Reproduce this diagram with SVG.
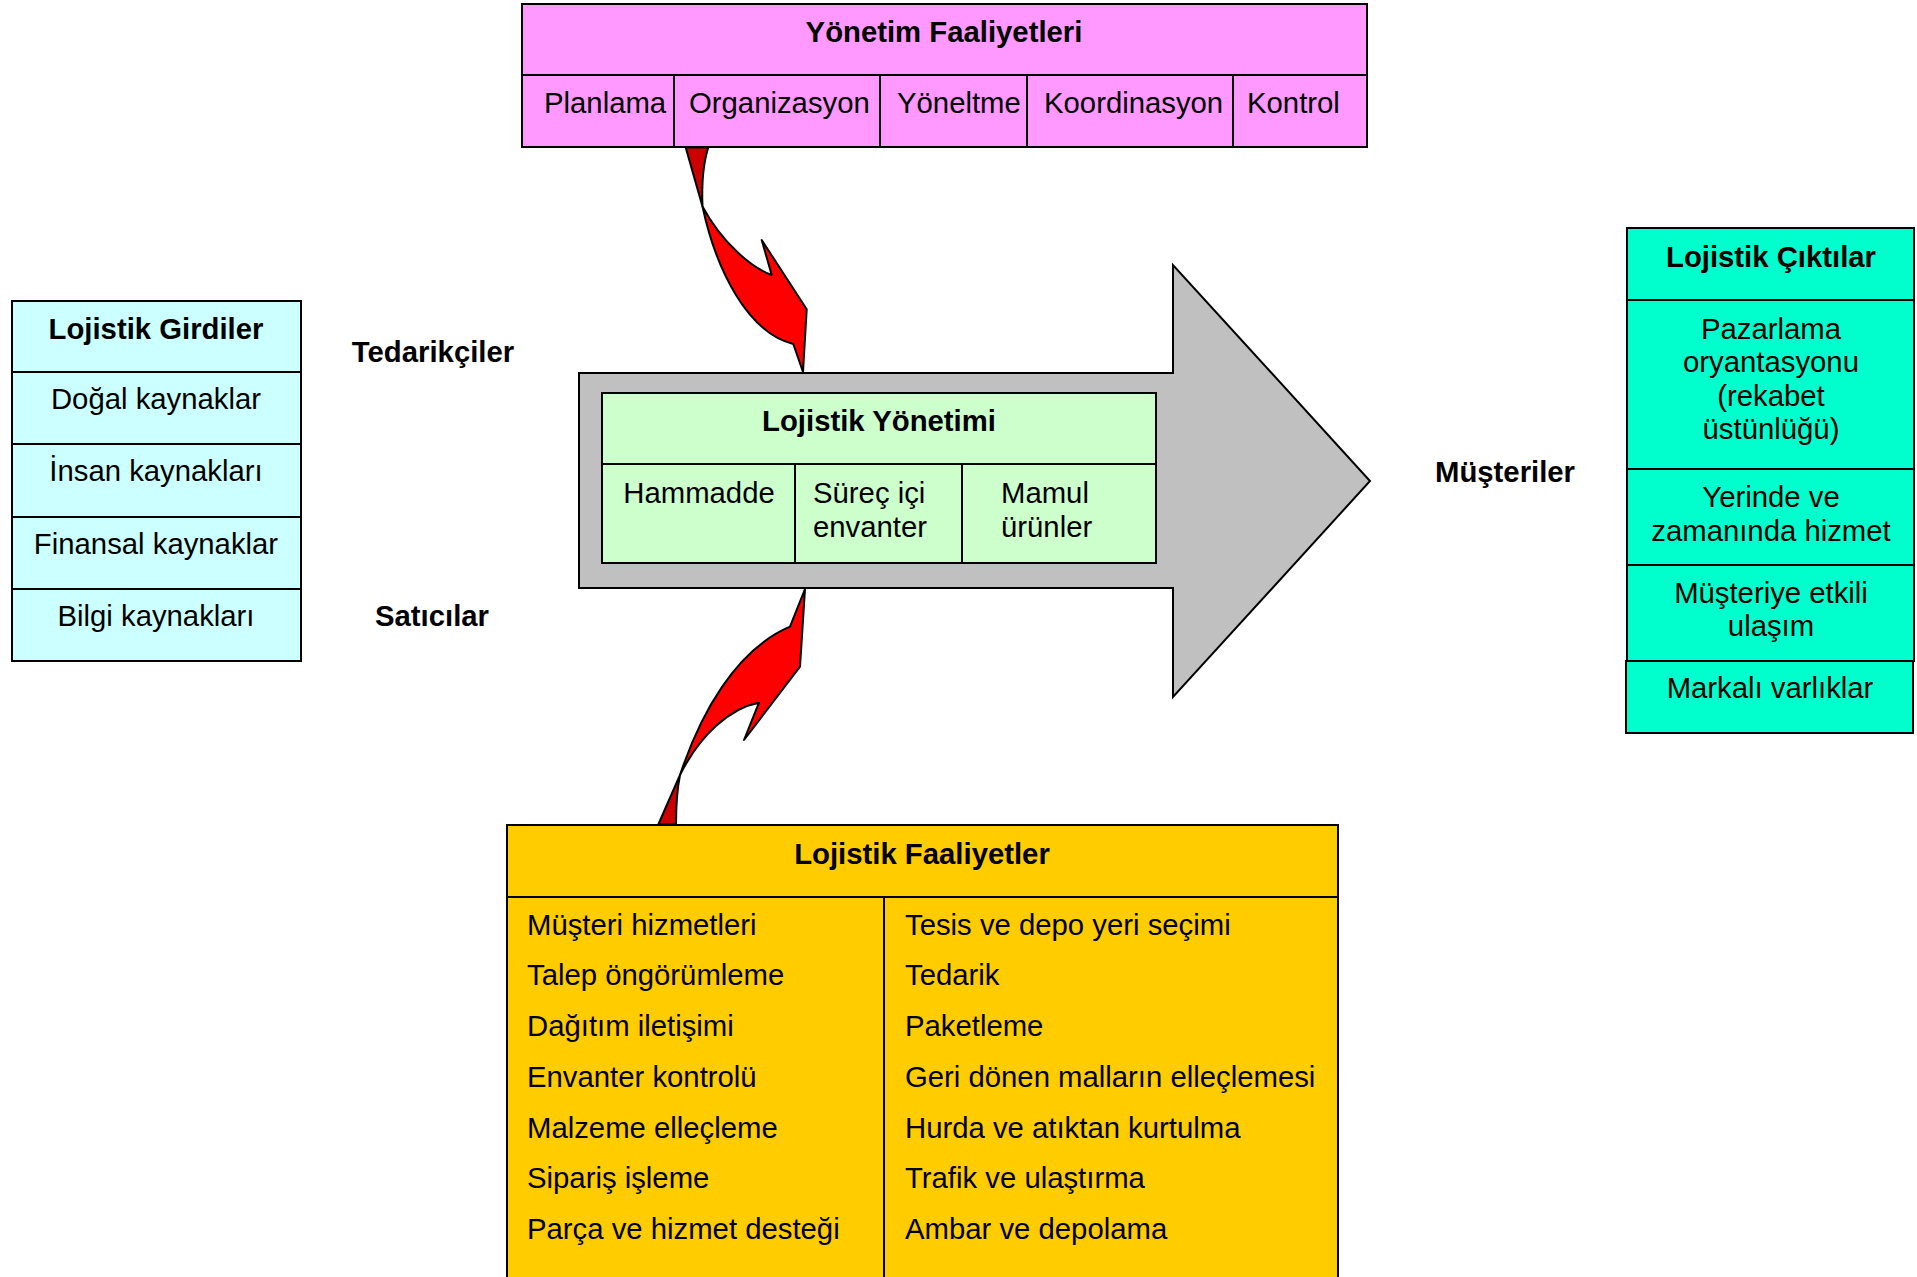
<svg xmlns="http://www.w3.org/2000/svg" width="1917" height="1277" viewBox="0 0 1917 1277">
  <style>
    text { font-family: "Liberation Sans", Arial, sans-serif; font-size: 29.3px; fill: #000; }
    .b { font-weight: bold; }
    .c { text-anchor: middle; }
    .box { stroke: #000; stroke-width: 2; }
    .line { stroke: #000; stroke-width: 2; fill: none; }
    .redf { fill: #FF0000; stroke: #000; stroke-width: 2; stroke-linejoin: round; }
    .redb { fill: #CC0000; stroke: #000; stroke-width: 2; stroke-linejoin: round; }
  </style>
  <rect width="1917" height="1277" fill="#FFFFFF"/>

  <!-- Management activities -->
  <g id="yonetim-faaliyetleri">
    <rect class="box" x="522" y="4" width="845" height="143" fill="#FF99FF"/>
    <line class="line" x1="522" y1="75" x2="1367" y2="75"/>
    <line class="line" x1="674" y1="75" x2="674" y2="147"/>
    <line class="line" x1="880" y1="75" x2="880" y2="147"/>
    <line class="line" x1="1027" y1="75" x2="1027" y2="147"/>
    <line class="line" x1="1233" y1="75" x2="1233" y2="147"/>
    <text class="b c" x="944" y="42">Yönetim Faaliyetleri</text>
    <text x="544" y="113">Planlama</text>
    <text x="689" y="113">Organizasyon</text>
    <text x="897" y="113">Yöneltme</text>
    <text x="1044" y="113">Koordinasyon</text>
    <text x="1247" y="113">Kontrol</text>
  </g>

  <!-- Logistics inputs -->
  <g id="lojistik-girdiler">
    <rect class="box" x="12" y="301" width="289" height="360" fill="#CCFFFF"/>
    <line class="line" x1="12" y1="372" x2="301" y2="372"/>
    <line class="line" x1="12" y1="444" x2="301" y2="444"/>
    <line class="line" x1="12" y1="517" x2="301" y2="517"/>
    <line class="line" x1="12" y1="589" x2="301" y2="589"/>
    <text class="b c" x="156" y="339">Lojistik Girdiler</text>
    <text class="c" x="156" y="409">Doğal kaynaklar</text>
    <text class="c" x="156" y="481">İnsan kaynakları</text>
    <text class="c" x="156" y="554">Finansal kaynaklar</text>
    <text class="c" x="156" y="626">Bilgi kaynakları</text>
  </g>

  <g id="tedarikciler">
    <text class="b c" x="433" y="362">Tedarikçiler</text>
  </g>
  <g id="saticilar">
    <text class="b c" x="432" y="626">Satıcılar</text>
  </g>

  <!-- Logistics management inside the flow arrow -->
  <g id="lojistik-yonetimi">
    <polygon class="box" fill="#C0C0C0" points="579,373 1173,373 1173,265 1370,481 1173,697 1173,588 579,588"/>
    <rect class="box" x="602" y="393" width="554" height="170" fill="#CCFFCC"/>
    <line class="line" x1="602" y1="464" x2="1156" y2="464"/>
    <line class="line" x1="795" y1="464" x2="795" y2="563"/>
    <line class="line" x1="962" y1="464" x2="962" y2="563"/>
    <text class="b c" x="879" y="431">Lojistik Yönetimi</text>
    <text class="c" x="699" y="503">Hammadde</text>
    <text x="813" y="503">Süreç içi</text>
    <text x="813" y="537">envanter</text>
    <text x="1001" y="503">Mamul</text>
    <text x="1001" y="537">ürünler</text>
  </g>

  <g id="musteriler">
    <text class="b c" x="1505" y="482">Müşteriler</text>
  </g>

  <!-- Logistics outputs -->
  <g id="lojistik-ciktilar">
    <rect class="box" x="1627" y="228" width="287" height="433" fill="#00FFCC"/>
    <line class="line" x1="1627" y1="300" x2="1914" y2="300"/>
    <line class="line" x1="1627" y1="469" x2="1914" y2="469"/>
    <line class="line" x1="1627" y1="565" x2="1914" y2="565"/>
    <rect class="box" x="1626" y="661" width="287" height="72" fill="#00FFCC"/>
    <text class="b c" x="1771" y="267">Lojistik Çıktılar</text>
    <text class="c" x="1771" y="339">Pazarlama</text>
    <text class="c" x="1771" y="372">oryantasyonu</text>
    <text class="c" x="1771" y="406">(rekabet</text>
    <text class="c" x="1771" y="439">üstünlüğü)</text>
    <text class="c" x="1771" y="507">Yerinde ve</text>
    <text class="c" x="1771" y="541">zamanında hizmet</text>
    <text class="c" x="1771" y="603">Müşteriye etkili</text>
    <text class="c" x="1771" y="636">ulaşım</text>
    <text class="c" x="1770" y="698">Markalı varlıklar</text>
  </g>

  <!-- Logistics activities -->
  <g id="lojistik-faaliyetler">
    <rect class="box" x="507" y="825" width="831" height="470" fill="#FFCC00"/>
    <line class="line" x1="507" y1="897" x2="1338" y2="897"/>
    <line class="line" x1="884" y1="897" x2="884" y2="1295"/>
    <text class="b c" x="922" y="864">Lojistik Faaliyetler</text>
    <text x="527" y="935">Müşteri hizmetleri</text>
    <text x="527" y="985">Talep öngörümleme</text>
    <text x="527" y="1036">Dağıtım iletişimi</text>
    <text x="527" y="1087">Envanter kontrolü</text>
    <text x="527" y="1138">Malzeme elleçleme</text>
    <text x="527" y="1188">Sipariş işleme</text>
    <text x="527" y="1239">Parça ve hizmet desteği</text>
    <text x="905" y="935">Tesis ve depo yeri seçimi</text>
    <text x="905" y="985">Tedarik</text>
    <text x="905" y="1036">Paketleme</text>
    <text x="905" y="1087">Geri dönen malların elleçlemesi</text>
    <text x="905" y="1138">Hurda ve atıktan kurtulma</text>
    <text x="905" y="1188">Trafik ve ulaştırma</text>
    <text x="905" y="1239">Ambar ve depolama</text>
  </g>

  <!-- Curved connectors into the flow arrow -->
  <g id="connectors">
    <g id="yonetim-to-akis">
      <path class="redb" d="M685.7,147.5 L702.5,206.5 Q701,170 708.3,147.5 Z"/>
      <path class="redf" d="M702.5,206.5 C716,270 748,333 793.3,344 L803,372 L806.7,309.3 L761.7,240 L771.7,275 C752,268 722,243 702.5,206.5 Z"/>
    </g>
    <g id="faaliyetler-to-akis">
      <path class="redb" d="M658.3,824.5 L680,775 Q676,795 676,824.5 Z"/>
      <path class="redf" d="M680,775 C700,715 735,650 790,626.7 L805,589 L800,666.7 L744,740 L759,702.7 C730,708 700,735 680,775 Z"/>
    </g>
  </g>
</svg>
